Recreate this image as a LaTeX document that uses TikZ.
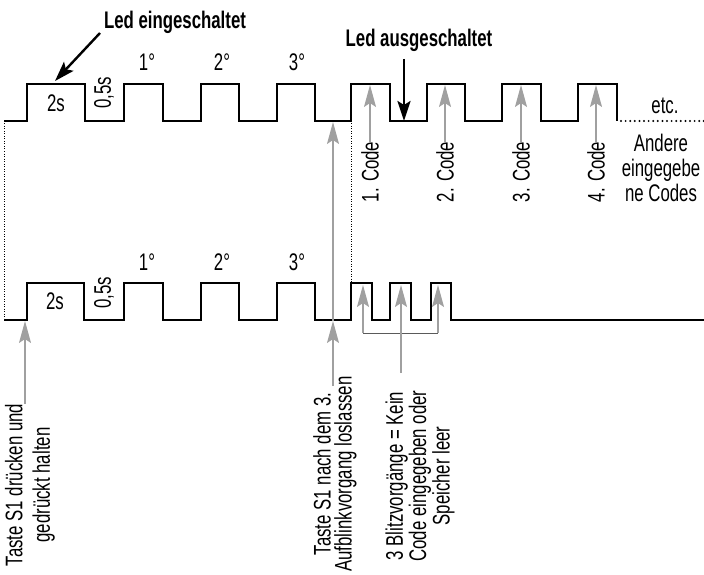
\documentclass[tikz,border=0pt]{standalone}
\usepackage{fontspec}
\setmainfont{Liberation Sans}[FakeStretch=0.7]
\usetikzlibrary{arrows.meta}
\definecolor{arrgray}{HTML}{A0A0A0}
\definecolor{brgray}{HTML}{5A5A5A}
\tikzset{
  wave/.style={line width=2.4pt, line join=miter},
  lbl/.style={inner sep=0pt, font=\fontsize{24}{26}\selectfont},
  rlbl/.style={lbl, rotate=90, align=center},
  head/.style={inner sep=0pt, font=\bfseries\fontsize{24}{26}\selectfont},
  grayarr/.style={draw=arrgray, line width=1.3pt, -{Stealth[length=22pt,width=12pt,inset=4pt]}},
  blackarr/.style={line width=2.4pt, -{Stealth[length=20pt,width=13pt,inset=4pt]}},
  thindot/.style={line width=0.7pt, dash pattern=on 1pt off 1.5pt},
  bigdot/.style={line width=2.2pt, line cap=round, dash pattern=on 0pt off 4.6pt}
}
\begin{document}
\begin{tikzpicture}[x=1pt,y=-1pt]
\useasboundingbox (0,0) rectangle (704,575);
% top waveform
\draw[wave] (4,121) -- (27,121) -- (27,84) -- (85,84) -- (85,121) -- (124,121) -- (124,84) -- (163,84) -- (163,121)
  -- (201,121) -- (201,84) -- (239,84) -- (239,121) -- (277,121) -- (277,84) -- (315,84) -- (315,121)
  -- (351,121) -- (351,84) -- (390,84) -- (390,121) -- (427,121) -- (427,84) -- (465,84) -- (465,121)
  -- (502,121) -- (502,84) -- (541,84) -- (541,121) -- (578,121) -- (578,84) -- (617,84) -- (617,121);
\coordinate (etcA) at (621,121);
\coordinate (etcB) at (704,121);
\draw[bigdot] (etcA) -- (etcB);
% bottom waveform
\draw[wave] (4,320) -- (27,320) -- (27,283) -- (84,283) -- (84,320) -- (124,320) -- (124,283) -- (163,283) -- (163,320)
  -- (201,320) -- (201,283) -- (239,283) -- (239,320) -- (277,320) -- (277,283) -- (315,283) -- (315,320)
  -- (351,320) -- (351,283) -- (372,283) -- (372,320) -- (390,320) -- (390,283) -- (411,283) -- (411,320)
  -- (431,320) -- (431,283) -- (451,283) -- (451,320) -- (704,320);
% dotted verticals
\coordinate (dA1) at (4,121);
\coordinate (dA2) at (4,320);
\coordinate (dB1) at (351,121);
\coordinate (dB2) at (351,283);
\draw[thindot] (dA1) -- (dA2);
\draw[thindot] (dB1) -- (dB2);
% labels on waveforms
\node[lbl] (t2s) at (56,103) {2s};
\node[lbl, rotate=90] (t05) at (104,93) {0,5s};
\node[lbl] (t1) at (147,62) {1°};
\node[lbl] (t2) at (222,62) {2°};
\node[lbl] (t3) at (297,62) {3°};
\node[lbl] (b2s) at (55,301) {2s};
\node[lbl, rotate=90] (b05) at (104,293) {0,5s};
\node[lbl] (b1) at (147,262) {1°};
\node[lbl] (b2) at (222,262) {2°};
\node[lbl] (b3) at (297,262) {3°};
% headings with black arrows
\node[head] (ledein) at (175,22) {Led eingeschaltet};
\coordinate (ledeinS) at (100,33);
\coordinate (ledeinE) at (55,81);
\draw[blackarr] (ledeinS) -- (ledeinE);
\node[head] (ledaus) at (419,40) {Led ausgeschaltet};
\coordinate (ledausS) at (404,59);
\coordinate (ledausE) at (404,121);
\draw[blackarr] (ledausS) -- (ledausE);
% code labels
\node[rlbl] (c1) at (370,172) {1. Code};
\node[rlbl] (c2) at (445,172) {2. Code};
\node[rlbl] (c3) at (521,172) {3. Code};
\node[rlbl] (c4) at (596,172) {4. Code};
\foreach \n/\x in {c1/370,c2/445,c3/521,c4/596}{
  \coordinate (\n tip) at (\x,85);
  \draw[grayarr] (\n.east) -- (\n tip);
}
\node[lbl] (etc) at (665,106) {etc.};
\node[lbl, align=center, font=\fontsize{24}{25}\selectfont] (andere) at (661,168) {Andere\\eingegebe\\ne Codes};
% bottom annotations
\node[rlbl, font=\fontsize{24}{27.5}\selectfont] (press) at (30,485) {Taste S1 drücken und\\gedrückt halten};
\coordinate (pressTip) at (25,321);
\draw[grayarr] (press.east -| pressTip) -- (pressTip);
\node[rlbl, font=\fontsize{24}{21}\selectfont] (release) at (335,474) {Taste S1 nach dem 3.\\Aufblinkvorgang loslassen};
\coordinate (relS) at (333,386);
\coordinate (relMid) at (333,321);
\coordinate (relTop) at (333,122);
\draw[grayarr] (relS) -- (relMid);
\draw[grayarr] (relMid) -- (relTop);
\node[rlbl, font=\fontsize{24}{21.5}\selectfont] (blitz) at (420,476) {3 Blitzvorgänge = Kein\\Code eingegeben oder\\Speicher leer};
\coordinate (brL) at (363,333);
\coordinate (brM) at (401,333);
\coordinate (brR) at (438,333);
\coordinate (fl1) at (363,285);
\coordinate (fl2) at (401,285);
\coordinate (fl3) at (438,285);
\coordinate (blitzS) at (401,373);
\draw[brgray, line width=1pt] (brL) -- (brR);
\draw[grayarr] (brL) -- (fl1);
\draw[grayarr] (blitzS) -- (fl2);
\draw[grayarr] (brR) -- (fl3);
\end{tikzpicture}
\end{document}
